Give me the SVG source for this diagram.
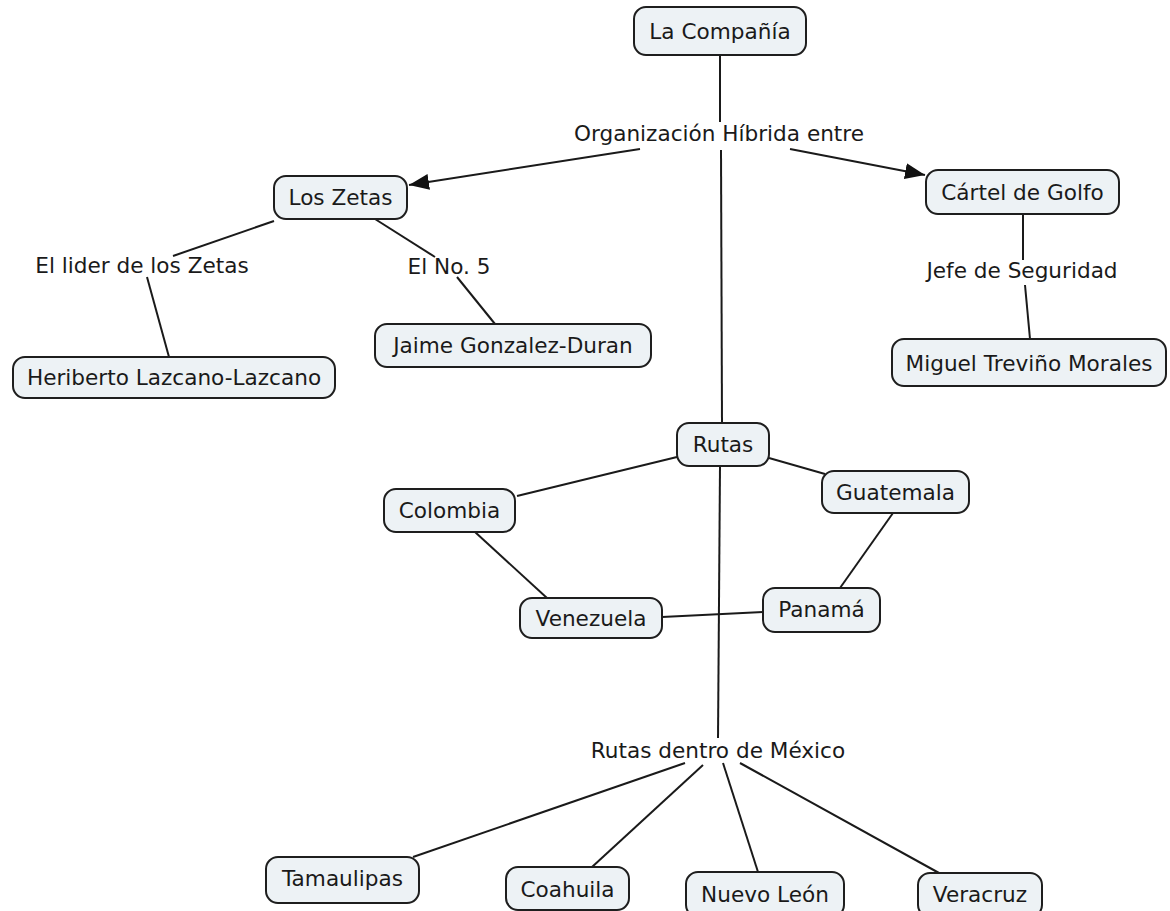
<svg xmlns="http://www.w3.org/2000/svg" width="1170" height="911" viewBox="0 0 1170 911">
<defs>
<style>
.n rect{fill:#edf2f5;stroke:#1e1e1e;stroke-width:2}
text{font-family:"DejaVu Sans",Verdana,sans-serif;font-size:21.6px;fill:#1a1a1a;text-anchor:middle}
.c line{stroke:#1a1a1a;stroke-width:2}
</style>
<marker id="ah" markerUnits="userSpaceOnUse" markerWidth="22" markerHeight="18" refX="20" refY="8" orient="auto">
<path d="M0,0 L20,8 L0,16 Z" fill="#111"/>
</marker>
</defs>
<rect width="1170" height="911" fill="#fff"/>
<g id="connectors" class="c">
<line x1="720" y1="55" x2="720" y2="122"/>
<line x1="721" y1="150" x2="722" y2="423"/>
<line x1="640" y1="149" x2="409" y2="185" marker-end="url(#ah)"/>
<line x1="790" y1="149" x2="925" y2="175" marker-end="url(#ah)"/>
<line x1="274" y1="221" x2="173" y2="256"/>
<line x1="147" y1="277" x2="169" y2="357"/>
<line x1="375" y1="219" x2="435" y2="257"/>
<line x1="457" y1="277" x2="495" y2="324"/>
<line x1="1023" y1="214" x2="1023" y2="260"/>
<line x1="1025" y1="285" x2="1030" y2="339"/>
<line x1="677" y1="457" x2="517" y2="496"/>
<line x1="769" y1="458" x2="825" y2="474"/>
<line x1="475" y1="532" x2="547" y2="598"/>
<line x1="893" y1="513" x2="840" y2="588"/>
<line x1="662" y1="617" x2="763" y2="612"/>
<line x1="720" y1="466" x2="718" y2="738"/>
<line x1="685" y1="763" x2="413" y2="857"/>
<line x1="703" y1="765" x2="592" y2="867"/>
<line x1="723" y1="763" x2="758" y2="872"/>
<line x1="740" y1="763" x2="939" y2="873"/>
</g>
<g id="lbl-organizacion"><text x="719" y="141">Organización Híbrida entre</text></g>
<g id="lbl-lider"><text x="142" y="273">El lider de los Zetas</text></g>
<g id="lbl-no5"><text x="449" y="274">El No. 5</text></g>
<g id="lbl-jefe"><text x="1022" y="278">Jefe de Seguridad</text></g>
<g id="lbl-rutas-mexico"><text x="718" y="758">Rutas dentro de México</text></g>
<g id="n-compania" class="n"><rect x="634" y="7" width="172" height="48" rx="12"/><text x="720" y="39">La Compañía</text></g>
<g id="n-zetas" class="n"><rect x="274" y="176" width="133" height="43" rx="12"/><text x="340.5" y="205">Los Zetas</text></g>
<g id="n-golfo" class="n"><rect x="926" y="170" width="193" height="44" rx="12"/><text x="1022.5" y="200">Cártel de Golfo</text></g>
<g id="n-miguel" class="n"><rect x="892" y="339" width="274" height="47" rx="12"/><text x="1029" y="371">Miguel Treviño Morales</text></g>
<g id="n-heriberto" class="n"><rect x="13" y="357" width="322" height="41" rx="12"/><text x="174" y="385">Heriberto Lazcano-Lazcano</text></g>
<g id="n-jaime" class="n"><rect x="375" y="324" width="276" height="43" rx="12"/><text x="513" y="353">Jaime Gonzalez-Duran</text></g>
<g id="n-rutas" class="n"><rect x="677" y="423" width="92" height="43" rx="12"/><text x="723" y="452">Rutas</text></g>
<g id="n-colombia" class="n"><rect x="384" y="489" width="131" height="43" rx="12"/><text x="449.5" y="518">Colombia</text></g>
<g id="n-guatemala" class="n"><rect x="822" y="471" width="147" height="42" rx="12"/><text x="895.5" y="500">Guatemala</text></g>
<g id="n-venezuela" class="n"><rect x="520" y="598" width="142" height="40" rx="12"/><text x="591" y="626">Venezuela</text></g>
<g id="n-panama" class="n"><rect x="763" y="588" width="117" height="44" rx="12"/><text x="821.5" y="617">Panamá</text></g>
<g id="n-tamaulipas" class="n"><rect x="266" y="857" width="153" height="46" rx="12"/><text x="342.5" y="886">Tamaulipas</text></g>
<g id="n-coahuila" class="n"><rect x="506" y="867" width="123" height="43" rx="12"/><text x="567.5" y="897">Coahuila</text></g>
<g id="n-nuevoleon" class="n"><rect x="686" y="872" width="158" height="45" rx="12"/><text x="765" y="902">Nuevo León</text></g>
<g id="n-veracruz" class="n"><rect x="918" y="873" width="124" height="44" rx="12"/><text x="980" y="902">Veracruz</text></g>
</svg>
